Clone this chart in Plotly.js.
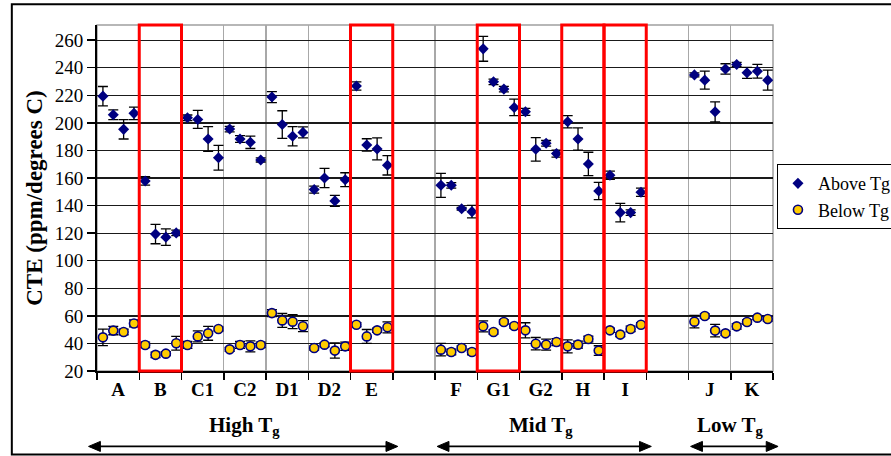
<!DOCTYPE html>
<html>
<head>
<meta charset="utf-8">
<script src="https://cdn.plot.ly/plotly-3.0.1.min.js"></script>
<style>html,body{margin:0;padding:0;background:#fff;}#chart{width:891px;height:456px;}</style>
</head>
<body>
<div id="chart"></div>
<script>
// Category slots along the x axis ('' = empty spacer slot)
const categories = ['A','B','C1','C2','D1','D2','E','','F','G1','G2','H','I','','J','K'];

// CTE above Tg (ppm/degrees C), four samples per category
const aboveTg = {
  A:  [219.4, 205.9, 195.3, 206.9],
  B:  [157.9, 119.3, 117.1, 120.2],
  C1: [203.7, 202.5, 188.3, 174.7],
  C2: [195.5, 188.3, 185.9, 173.1],
  D1: [218.7, 198.8, 190.3, 193.1],
  D2: [151.6, 160.0, 143.4, 158.8],
  E:  [226.7, 184.0, 181.1, 169.2],
  F:  [154.7, 154.7, 137.7, 135.6],
  G1: [253.7, 229.8, 224.5, 211.2],
  G2: [208.0, 180.8, 185.2, 177.7],
  H:  [200.8, 188.3, 170.2, 150.6],
  I:  [162.0, 134.9, 134.9, 149.7],
  J:  [234.8, 231.0, 208.0, 239.1],
  K:  [242.4, 236.3, 237.5, 231.0]
};
const aboveErr = {
  A:  [7, 3.5, 7, 4.5],
  B:  [3, 7, 6, 2],
  C1: [2, 6.5, 9, 9],
  C2: [2, 2.5, 4.5, 1.5],
  D1: [4, 10, 7, 4],
  D2: [2.5, 7, 4, 5],
  E:  [3, 4.5, 8, 7],
  F:  [8.7, 2, 1, 4.5],
  G1: [9, 2, 2, 6],
  G2: [2.5, 8.5, 2, 2.5],
  H:  [4.5, 8, 8.5, 6.3],
  I:  [3, 6.7, 2, 3],
  J:  [1.5, 6.5, 7.3, 3.8],
  K:  [1.5, 4, 5, 7.3]
};

// CTE below Tg (ppm/degrees C)
const belowTg = {
  A:  [44.4, 49.3, 48.3, 54.5],
  B:  [38.9, 31.7, 32.6, 40.1],
  C1: [38.9, 45.1, 47.3, 50.5],
  C2: [35.7, 38.9, 37.9, 38.9],
  D1: [62.0, 56.7, 55.8, 52.5],
  D2: [36.7, 39.1, 34.8, 37.9],
  E:  [53.6, 45.1, 49.5, 51.7],
  F:  [35.5, 33.8, 36.7, 33.8],
  G1: [52.4, 48.3, 55.5, 52.6],
  G2: [49.5, 39.8, 39.1, 41.0],
  H:  [37.9, 39.1, 43.2, 34.8],
  I:  [49.5, 46.4, 50.5, 53.6],
  J:  [55.8, 59.9, 49.3, 47.3],
  K:  [52.4, 55.5, 58.7, 57.7]
};
const belowErr = {
  A:  [6, 3, 2, 2.5],
  B:  [2, 2, 1.5, 5],
  C1: [2.5, 4, 5, 1.5],
  C2: [1.5, 2.5, 4, 2],
  D1: [2.5, 5, 5, 4],
  D2: [1.5, 1.5, 5.5, 3],
  E:  [1.5, 5, 1.5, 4],
  F:  [4.5, 2, 1.5, 2],
  G1: [4, 1.5, 1.5, 1.5],
  G2: [5.5, 4.5, 4, 2.5],
  H:  [4.7, 2.5, 2, 3.5],
  I:  [1.5, 1.5, 2, 1.5],
  J:  [4.5, 1.5, 4.5, 1.5],
  K:  [2, 1.5, 1.5, 1.5]
};

const highlighted = ['B','E','G1','H','I'];
const tgGroups = [
  {label: 'High T<sub>g</sub>', first: 'A', last: 'E'},
  {label: 'Mid T<sub>g</sub>',  first: 'F', last: 'I'},
  {label: 'Low T<sub>g</sub>',  first: 'J', last: 'K'}
];

const FONT = '"Liberation Serif", "Times New Roman", "DejaVu Serif", serif';
const NAVY = '#000080';

function buildSeries(vals, errs) {
  const x = [], y = [], e = [];
  categories.forEach((c, i) => {
    if (!c || !vals[c]) return;
    vals[c].forEach((v, k) => {
      x.push(i + 0.14 + 0.245 * k);
      y.push(v);
      e.push(errs[c][k]);
    });
  });
  return {x, y, e};
}

const a = buildSeries(aboveTg, aboveErr);
const b = buildSeries(belowTg, belowErr);

const errStyle = (arr) => ({type: 'data', array: arr, visible: true, color: '#000', thickness: 1.3, width: 5});

const traces = [
  {x: a.x, y: a.y, name: 'Above Tg', type: 'scatter', mode: 'markers',
   marker: {symbol: 'diamond', size: 8.5, color: NAVY},
   error_y: errStyle(a.e)},
  {x: b.x, y: b.y, name: 'Below Tg', type: 'scatter', mode: 'markers',
   marker: {symbol: 'circle', size: 9, color: '#FFCC00', line: {color: NAVY, width: 1.6}},
   error_y: errStyle(b.e)}
];

const labelIdx = categories.map((c, i) => i).filter(i => categories[i]);
const n = categories.length;

const shapes = [];
// plot border top/right (grey)
shapes.push({type: 'rect', xref: 'paper', yref: 'paper', x0: 0, x1: 1, y0: 0, y1: 1,
  line: {color: '#A0A0A0', width: 1.5}, layer: 'below'});
highlighted.forEach(c => {
  const i = categories.indexOf(c);
  shapes.push({type: 'rect', xref: 'x', yref: 'paper', x0: i, x1: i + 1, y0: 0, y1: 1,
    line: {color: '#FF0000', width: 3}, layer: 'above'});
});
// outer chart frame
shapes.push({type: 'rect', xref: 'paper', yref: 'paper',
  x0: -0.126, x1: 1.2, y0: -0.241, y1: 1.06, line: {color: '#000', width: 2}});

const annotations = [];
const ARROW_Y = -0.218, HEAD_L = 0.28 / n, HEAD_H = 0.0145;
tgGroups.forEach(g => {
  const i0 = categories.indexOf(g.first), i1 = categories.indexOf(g.last) + 1;
  annotations.push({xref: 'x', yref: 'paper', x: (i0 + i1) / 2, y: -0.16,
    text: '<b>' + g.label + '</b>', showarrow: false,
    font: {family: FONT, size: 21, color: '#000'}, xanchor: 'center', yanchor: 'middle'});
  // double-headed arrow spanning the group (paper coordinates, group span / n)
  const xs = (i0 - (i0 === 0 ? 0.2 : -0.05)) / n, xe = (i1 + 0.12) / n;
  shapes.push({type: 'line', xref: 'paper', yref: 'paper', x0: xs + HEAD_L / 2, x1: xe - HEAD_L / 2,
    y0: ARROW_Y, y1: ARROW_Y, line: {color: '#000', width: 1.8}});
  shapes.push({type: 'path', xref: 'paper', yref: 'paper',
    path: `M ${xs} ${ARROW_Y} L ${xs + HEAD_L} ${ARROW_Y + HEAD_H} L ${xs + HEAD_L} ${ARROW_Y - HEAD_H} Z`,
    fillcolor: '#000', line: {color: '#000', width: 1}});
  shapes.push({type: 'path', xref: 'paper', yref: 'paper',
    path: `M ${xe} ${ARROW_Y} L ${xe - HEAD_L} ${ARROW_Y + HEAD_H} L ${xe - HEAD_L} ${ARROW_Y - HEAD_H} Z`,
    fillcolor: '#000', line: {color: '#000', width: 1}});
});

const layout = {
  width: 891, height: 456,
  margin: {l: 97, r: 118, t: 25, b: 85},
  paper_bgcolor: '#fff', plot_bgcolor: '#fff',
  font: {family: FONT, color: '#000'},
  showlegend: true,
  legend: {xref: 'container', yref: 'container', x: 0.872, y: 0.64,
    xanchor: 'left', yanchor: 'top', itemwidth: 30,
    bordercolor: '#000', borderwidth: 1, bgcolor: '#fff',
    font: {family: FONT, size: 18, color: '#000'}},
  xaxis: {
    range: [0, n], tickmode: 'array', tickvals: labelIdx.map(i => i + 0.5),
    ticktext: labelIdx.map(i => '<b>' + categories[i] + '</b>'),
    ticks: '', showgrid: false, zeroline: false,
    tickfont: {family: FONT, size: 19, color: '#000'},
    showline: true, linecolor: '#000', linewidth: 2,
    minor: {tickmode: 'linear', tick0: 0, dtick: 1, ticks: 'outside', ticklen: 7,
      tickcolor: '#000', tickwidth: 1.5, showgrid: true, gridcolor: '#A8A8A8', gridwidth: 1.3}
  },
  yaxis: {
    range: [20, 271], tickmode: 'linear', tick0: 20, dtick: 20,
    ticks: 'outside', ticklen: 8, tickcolor: '#000', tickwidth: 1.5,
    showgrid: true, gridcolor: '#1a1a1a', gridwidth: 1.3, zeroline: false,
    showline: true, linecolor: '#000', linewidth: 2,
    tickfont: {family: FONT, size: 19, color: '#000'},
    title: {text: '<b>CTE (ppm/degrees C)</b>', font: {family: FONT, size: 23, color: '#000'}, standoff: 6}
  },
  shapes: shapes,
  annotations: annotations
};

Plotly.newPlot('chart', traces, layout, {displayModeBar: false, staticPlot: true});
</script>
</body>
</html>
